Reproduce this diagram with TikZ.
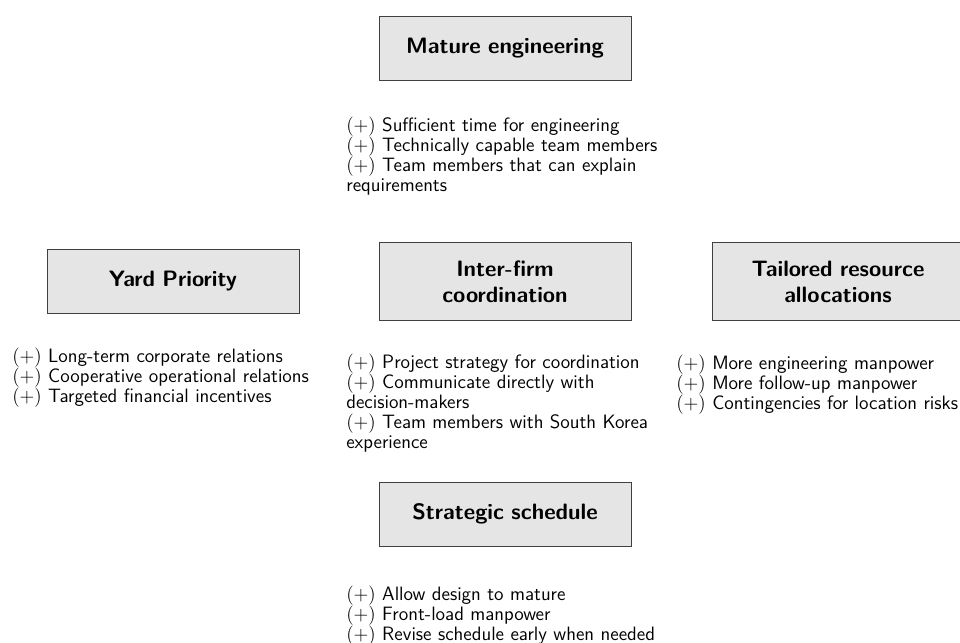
\documentclass[tikz,border=0pt]{standalone}
\usepackage{fontspec}
\usetikzlibrary{calc}
\newcommand{\nohyph}{\hyphenpenalty=10000\exhyphenpenalty=10000\relax}
\newcommand{\pos}{{\rmfamily(+)}}
\begin{document}
\begin{tikzpicture}[
  x=0.61538pt, y=-0.61538pt,
  factor/.style={draw=black!75, line width=0.5pt, fill=black!10,
    minimum width=155pt, minimum height=39.4pt, inner ysep=11pt,
    text width=132pt, align=center,
    font=\sffamily\bfseries\fontsize{13.7pt}{16pt}\selectfont\nohyph},
  drivers/.style={anchor=north west, inner sep=0pt, text width=196pt,
    align=left, font=\sffamily\fontsize{11.9pt}{12.3pt}\selectfont\nohyph}
]
\useasboundingbox (0,0) rectangle (960,642);

% factor boxes
\node[factor] (mature)    at (505,48.5)  {Mature engineering};
\node[factor] (yard)      at (173,281.5) {Yard Priority};
\node[factor] (interfirm) at (505,281.5) {Inter-firm coordination};
\node[factor] (tailored)  at (838,281.5) {Tailored resource allocations};
\node[factor] (schedule)  at (505,514)   {Strategic schedule};

% positive drivers under each factor
\node[drivers] (matureL) at ($(mature.south)+(-159,36)$)
  {\pos{} Sufficient time for engineering\\
   \pos{} Technically capable team members\\
   \pos{} Team members that can explain requirements};
\node[drivers] (yardL) at ($(yard.south)+(-161,34)$)
  {\pos{} Long-term corporate relations\\
   \pos{} Cooperative operational relations\\
   \pos{} Targeted financial incentives};
\node[drivers] (interfirmL) at ($(interfirm.south)+(-159,33)$)
  {\pos{} Project strategy for coordination\\
   \pos{} Communicate directly with decision-makers\\
   \pos{} Team members with South Korea experience};
\node[drivers] (tailoredL) at ($(tailored.south)+(-162,34)$)
  {\pos{} More engineering manpower\\
   \pos{} More follow-up manpower\\
   \pos{} Contingencies for location risks};
\node[drivers] (scheduleL) at ($(schedule.south)+(-159,39)$)
  {\pos{} Allow design to mature\\
   \pos{} Front-load manpower\\
   \pos{} Revise schedule early when needed};
\end{tikzpicture}
\end{document}
